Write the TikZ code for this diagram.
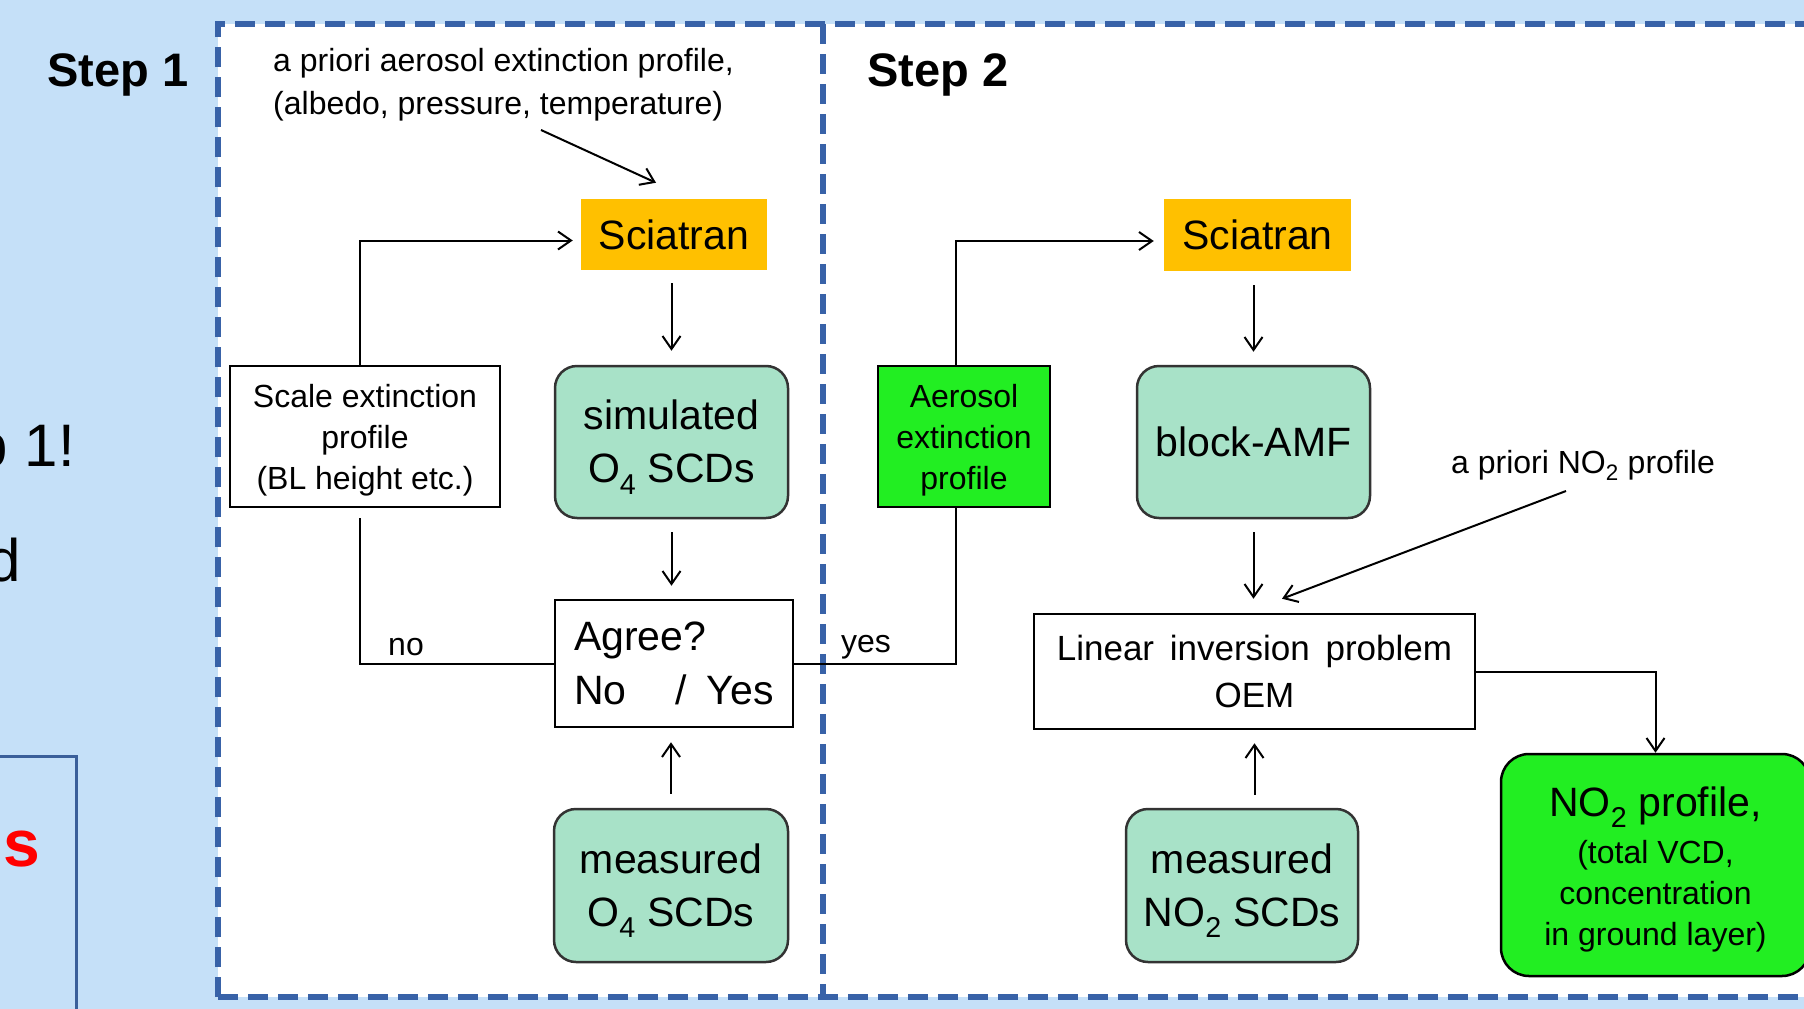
\documentclass[tikz,border=0pt]{standalone}
\usepackage{fontspec}
\setmainfont{Liberation Sans}
\usetikzlibrary{arrows.meta,calc}
\definecolor{bgblue}{RGB}{197,224,248}
\definecolor{dashblue}{RGB}{56,98,168}
\definecolor{orng}{RGB}{255,192,0}
\definecolor{mint}{RGB}{168,226,200}
\definecolor{lgreen}{RGB}{34,238,34}
\definecolor{darkframe}{RGB}{58,95,154}
\newcommand{\dnbig}{\rule{0pt}{40pt}}
\newcommand{\dnsml}{\rule{0pt}{31pt}}
\begin{document}
\begin{tikzpicture}[x=1pt,y=-1pt,
  big/.style={font=\fontsize{41}{53}\selectfont},
  sml/.style={font=\fontsize{32}{41}\selectfont},
  boxbase/.style={inner sep=0pt, align=center, line width=2.5pt},
  plainbox/.style={boxbase, draw=black, fill=white},
  roundbox/.style={boxbase, draw=black!80, fill=mint, rounded corners=22pt},
  sciabox/.style={boxbase, fill=orng},
  arr/.style={line width=2pt, -{Straight Barb[length=13pt,width=18pt]}},
  conn/.style={line width=2pt},
  lbl/.style={inner sep=0pt, font=\fontsize{32}{41}\selectfont},
  frag/.style={anchor=base east, inner sep=0pt, font=\fontsize{60}{60}\selectfont},
  steplbl/.style={anchor=base west, inner sep=0pt, font=\fontsize{47}{47}\selectfont\bfseries},
  dashln/.style={dashblue, line width=5.5pt, dash pattern=on 20pt off 10pt},
]
\useasboundingbox (0,0) rectangle (1804,1009);
\clip (0,0) rectangle (1804,1009);
\fill[bgblue] (0,0) rectangle (1804,1009);
% left partial content
\node[frag] (frag1) at (75,466) {p 1!};
\node[frag] (frag2) at (21,581) {d};
\node[frag, text=red, font=\fontsize{66}{66}\selectfont\bfseries] (frag3) at (40,866) {s};
\draw[darkframe, line width=3pt] (-10,756) -- (76,756) -- (76,1030);
% panels
\fill[white] (218,24) rectangle (1830,997);
\draw[dashln] (218,997) -- (218,24) -- (1830,24);
\draw[dashln] (218,997) -- (1830,997);
\draw[dashln] (823,24) -- (823,997);
\node[steplbl] (step1) at (47,86) {Step 1};
\node[steplbl] (step2) at (867,86) {Step 2};
% top annotation
\node[lbl, anchor=base west] (apr1) at (273,71) {a priori aerosol extinction profile,};
\node[lbl, anchor=base west] (apr2) at (273,114) {(albedo, pressure, temperature)};
% step 1 nodes
\node[sciabox, minimum width=186pt, minimum height=71pt, big] (sci1) at (674,234.5) {Sciatran};
\node[plainbox, minimum width=270pt, minimum height=141pt, sml] (scale) at (365,436.5) {\dnsml Scale extinction\\profile\\(BL height etc.)};
\node[roundbox, minimum width=233pt, minimum height=152pt, big] (sim) at (671.5,442) {\dnbig simulated\\O\textsubscript{4} SCDs};
\node[plainbox, minimum width=238pt, minimum height=127pt, font=\fontsize{41}{54}\selectfont, align=left] (agree) at (674,663.5) {Agree?\\No\hspace{49pt}/\hspace{20pt}Yes};
\node[roundbox, minimum width=234pt, minimum height=153pt, big] (mo4) at (671,885.5) {\dnbig measured\\O\textsubscript{4} SCDs};
% step 2 nodes
\node[plainbox, fill=lgreen, minimum width=172pt, minimum height=141pt, sml] (aer) at (964,436.5) {\dnsml Aerosol\\extinction\\profile};
\node[sciabox, minimum width=187pt, minimum height=72pt, big] (sci2) at (1257.5,235) {Sciatran};
\node[roundbox, minimum width=233pt, minimum height=152pt, big] (amf) at (1253.5,442) {block-AMF};
\node[plainbox, minimum width=441pt, minimum height=115pt, font=\fontsize{35}{47}\selectfont] (lin) at (1254.5,671.5) {Linear\hspace{0.45em}inversion\hspace{0.45em}problem\\OEM};
\node[roundbox, minimum width=232pt, minimum height=153pt, big] (mno2) at (1242,885.5) {\dnbig measured\\NO\textsubscript{2} SCDs};
\node[roundbox, fill=lgreen, draw=black, minimum width=309pt, minimum height=222pt, rounded corners=28pt, sml] (no2p) at (1655.5,865) {{\fontsize{41}{48}\selectfont\rule{0pt}{38pt}NO\textsubscript{2} profile,}\\[6pt](total VCD,\\concentration\\in ground layer)};
\node[lbl] (ano2) at (1583,465) {a priori NO\textsubscript{2} profile};
\node[lbl] (no) at (406,647) {no};
\node[lbl] (yes) at (866,647) {yes};
% connectors
\coordinate (aprS) at (541,130);
\draw[arr] (aprS) -- ($(sci1.north)+(-18,-15)$);
\draw[arr, shorten <=12pt, shorten >=14pt] (sci1.south -| sim.north) -- (sim.north);
\draw[arr, shorten <=13pt, shorten >=13pt] (sim.south) -- (sim.south |- agree.north);
\draw[arr, shorten <=14pt, shorten >=14pt] (mo4.north) -- (mo4.north |- agree.south);
\draw[conn, shorten >=10pt] (agree.west) -| ($(scale.south)+(-5,0)$);
\draw[arr, shorten >=7pt] ($(scale.north)+(-5,0)$) |- ($(sci1.west)+(0,6)$);
\draw[conn] (agree.east) -| ($(aer.south)+(-8,0)$);
\draw[arr, shorten >=9pt] ($(aer.north)+(-8,0)$) |- ($(sci2.west)+(0,6)$);
\draw[arr, shorten <=13pt, shorten >=13pt] (sci2.south -| amf.north) -- (amf.north);
\draw[arr, shorten <=13pt, shorten >=14pt] (amf.south) -- (amf.south |- lin.north);
\draw[arr, shorten <=13pt, shorten >=13pt] (lin.south |- mno2.north) -- (lin.south);
\coordinate (ano2S) at (1566,491);
\draw[arr] (ano2S) -- ($(lin.north)+(27.5,-14)$);
\draw[arr] (lin.east) -| (no2p.north);
\end{tikzpicture}
\end{document}
